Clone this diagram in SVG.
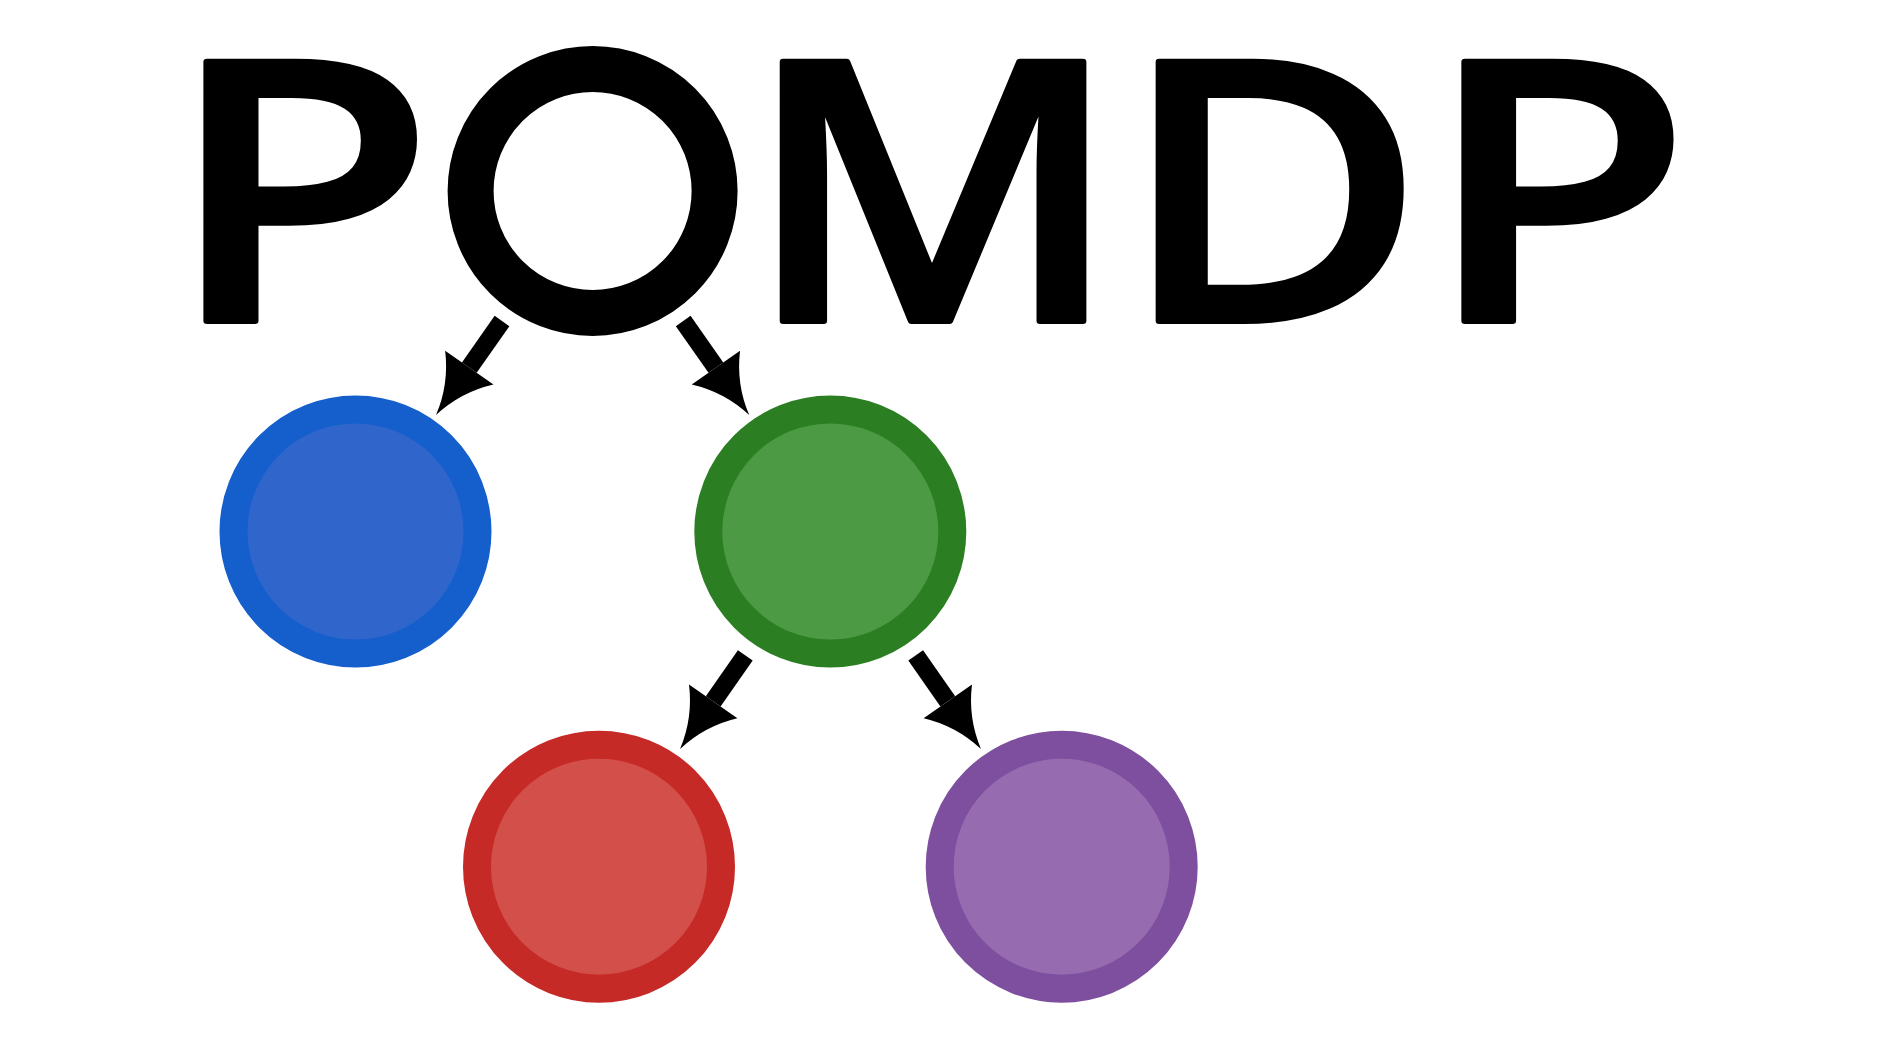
<svg xmlns="http://www.w3.org/2000/svg" width="1890" height="1063" viewBox="0 0 1890 1063">
<style>
.title{font-family:"Noto Sans","Open Sans","Liberation Sans",sans-serif;font-weight:500;font-size:363px;fill:#000;stroke:#000;stroke-width:6;stroke-linejoin:round}
.edge{stroke:#000;stroke-width:18;fill:none;stroke-linecap:butt;marker-end:url(#head)}
</style>
<defs>
<marker id="head" markerUnits="userSpaceOnUse" orient="auto" refX="0" refY="0" markerWidth="70" markerHeight="70" overflow="visible">
<path d="M0,-29.5 L0,29.5 Q25,7 58,0 Q25,-7 0,-29.5 Z" fill="#000"/>
</marker>
</defs>
<rect width="1890" height="1063" fill="#fff"/>
<g id="title">
<text class="title" x="0" y="321" transform="translate(165.8,0) scale(1.215,1)">P</text>
<text class="title" x="0" y="321" transform="translate(744,0) scale(1.135,1)">M</text>
<text class="title" x="0" y="321" transform="translate(1120.1,0) scale(1.149,1)">D</text>
<text class="title" x="0" y="321" transform="translate(1424,0) scale(1.207,1)">P</text>
</g>
<g id="root"><circle cx="592.6" cy="191" r="122" fill="none" stroke="#000" stroke-width="46"/></g>
<g id="connectors">
<path class="edge" d="M502,321 L469.3,367.6"/>
<path class="edge" d="M683.2,321 L715.9,367.6"/>
<path class="edge" d="M745.3,655.3 L713.2,701.4"/>
<path class="edge" d="M915.7,655.3 L947.8,701.4"/>
</g>
<g id="blue"><circle cx="355.5" cy="531.5" r="122" fill="#3066CC" stroke="#155FCC" stroke-width="28"/></g>
<g id="green"><circle cx="830.3" cy="531.5" r="122" fill="#4D9A44" stroke="#2B7F22" stroke-width="28"/></g>
<g id="red"><circle cx="599" cy="866.7" r="122" fill="#D34F4A" stroke="#C62A27" stroke-width="28"/></g>
<g id="purple"><circle cx="1061.7" cy="866.7" r="122" fill="#966BB0" stroke="#7E4F9E" stroke-width="28"/></g>
</svg>
